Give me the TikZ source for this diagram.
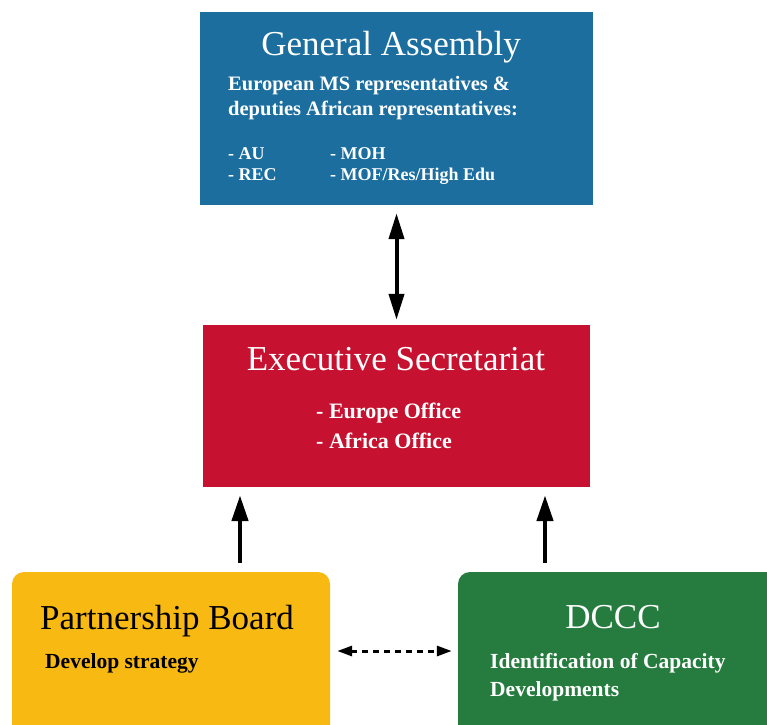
\documentclass[tikz,border=0pt]{standalone}
\usepackage{fontspec}
\setmainfont{Liberation Serif}
\usetikzlibrary{arrows.meta}
\definecolor{gablue}{RGB}{27,110,158}
\definecolor{esred}{RGB}{198,18,48}
\definecolor{pbyellow}{RGB}{248,186,18}
\definecolor{dcgreen}{RGB}{38,124,62}
\tikzset{
  box/.style={draw=none, inner sep=0pt, minimum width=#1},
  title/.style={font=\fontsize{35}{38}\selectfont, inner sep=0pt, anchor=base},
  body/.style={font=\bfseries\fontsize{20.5}{24}\selectfont, inner sep=0pt, anchor=base west},
  small/.style={font=\bfseries\fontsize{18}{21}\selectfont},
  lower/.style={font=\bfseries\fontsize{21.5}{25}\selectfont},
  arr/.style={line width=4.5pt, -{Triangle[length=26pt,width=16pt]}},
  darr/.style={line width=4pt, {Triangle[length=26pt,width=15pt]}-{Triangle[length=26pt,width=15pt]}},
  dash arr/.style={line width=3pt, dash pattern=on 6pt off 5pt, {Triangle[length=15pt,width=10pt]}-{Triangle[length=15pt,width=10pt]}}
}
\begin{document}
\begin{tikzpicture}[x=1pt,y=-1pt]
\useasboundingbox (0,0) rectangle (767,724);
\clip (0,0) rectangle (767,724);
\fill[white] (0,0) rectangle (767,724);
% boxes
\node[box=393pt, minimum height=193pt, fill=gablue] (GA) at (396.5,108.5) {};
\node[box=387pt, minimum height=162pt, fill=esred] (ES) at (396.5,406) {};
\node[box=318pt, minimum height=180pt, fill=pbyellow, rounded corners=12pt] (PB) at (171,662) {};
\node[box=330pt, minimum height=180pt, fill=dcgreen, rounded corners=12pt] (DC) at (623,662) {};
% texts GA
\node[title, text=white] (gat) at (391,55) {General Assembly};
\node[body, text=white] (ga1) at (228,90) {European MS representatives \&};
\node[body, text=white] (ga2) at (228,115) {deputies African representatives:};
\node[body, small, text=white] (ga3) at (228,159) {- AU};
\node[body, small, text=white] (ga4) at (228,180) {- REC};
\node[body, small, text=white] (ga5) at (330,159) {- MOH};
\node[body, small, text=white] (ga6) at (330,180) {- MOF/Res/High Edu};
% texts ES
\node[title, text=white] (est) at (396,370) {Executive Secretariat};
\node[body, text=white, font=\bfseries\fontsize{22}{26}\selectfont] (es1) at (316,418) {- Europe Office};
\node[body, text=white, font=\bfseries\fontsize{22}{26}\selectfont] (es2) at (316,448) {- Africa Office};
% texts PB
\node[title, text=black, anchor=base west] (pbt) at (40,629) {Partnership Board};
\node[body, lower, text=black] (pb1) at (45,668) {Develop strategy};
% texts DCCC
\node[title, text=white] (dct) at (613,628) {DCCC};
\node[body, lower, text=white] (dc1) at (490,668) {Identification of Capacity};
\node[body, lower, text=white] (dc2) at (490,696) {Developments};
% connectors
\coordinate (cx1) at (240,0);
\coordinate (cx2) at (545,0);
\draw[darr, shorten <=8pt, shorten >=5pt] (GA.south) -- (ES.north);
\draw[arr, shorten <=9pt, shorten >=8pt] (PB.north -| cx1) -- (ES.south -| cx1);
\draw[arr, shorten <=9pt, shorten >=8pt] (DC.north -| cx2) -- (ES.south -| cx2);
\draw[dash arr, shorten <=7pt, shorten >=6pt] (PB.east |- 0,651) -- (DC.west |- 0,651);
\end{tikzpicture}
\end{document}
